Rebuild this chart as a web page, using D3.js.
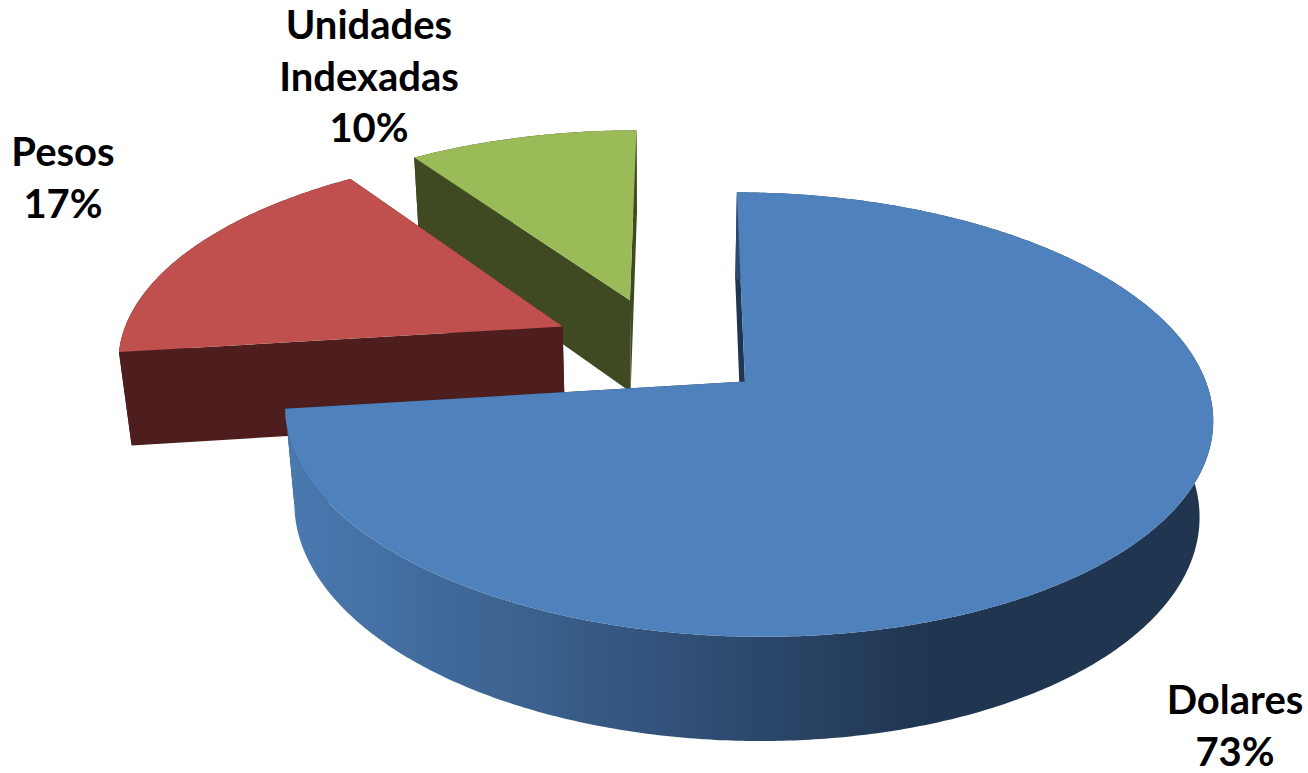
<!DOCTYPE html>
<html><head><meta charset="utf-8">
<script src="https://cdn.jsdelivr.net/npm/d3@7"></script>
<style>html,body{margin:0;background:#fff}svg{display:block}text{font-family:Lato,sans-serif;font-weight:700;font-size:40px;fill:#000;text-anchor:middle}</style>
</head><body><svg id="c" width="1308" height="773"></svg>
<script>
const categories=["Dolares","Pesos","Unidades Indexadas"];
const values=[72.9,17.4,9.7];
const topColors=["#4f81bd","#c0504d","#9bbb59"];
const wallColors=["#1f3550","#4e1e1e","#3f4a22"];
const labelLines=[["Dolares","73%"],["Pesos","17%"],["Unidades","Indexadas","10%"]];
const labelPos=[[1235,714],[63,166],[369,39]];

const cx=661,cy=347,Rx=447,Ry=207,D=96,p=0.145,q=0.005,r=0.024,explode=0.245;
const rotation=0.4*Math.PI/180;
function proj(X,Y,Z){
  const s=1/(1-p*Y-q*X+r*Z);
  return [cx+Rx*X*s,cy+(Ry*Y+D*Z)*s];
}
const svg=d3.select("#c");
const defs=svg.append("defs");
const g=defs.append("linearGradient").attr("id","blueWall").attr("gradientUnits","userSpaceOnUse")
 .attr("x1",290).attr("x2",930).attr("y1",0).attr("y2",0);
g.append("stop").attr("offset",0).attr("stop-color","#4a79b0");
g.append("stop").attr("offset",0.4).attr("stop-color","#3a5f8c");
g.append("stop").attr("offset",1).attr("stop-color","#1f3550");

const arcs=d3.pie().sort(null).startAngle(rotation).endAngle(rotation+2*Math.PI)(values);
const line=d3.line();
function rim(o,Z,a0,a1){
  const n=Math.max(2,Math.ceil(Math.abs(a1-a0)/0.01));
  return d3.range(n+1).map(i=>{
    const a=a0+(a1-a0)*i/n;
    return proj(o[0]+Math.sin(a),o[1]-Math.cos(a),Z);
  });
}
[2,1,0].forEach(i=>{
  const d=arcs[i];
  const mid=(d.startAngle+d.endAngle)/2;
  const o=[explode*Math.sin(mid),-explode*Math.cos(mid)];
  const G=svg.append("g").attr("class","slice");
  const A0=proj(o[0],o[1],0),A1=proj(o[0],o[1],1);
  const at=(a,Z)=>proj(o[0]+Math.sin(a),o[1]-Math.cos(a),Z);
  const wall=wallColors[i];
  G.append("path").attr("d",line([A0,at(d.endAngle,0),at(d.endAngle,1),A1])+"Z").attr("fill",wall);
  G.append("path").attr("d",line([A0,at(d.startAngle,0),at(d.startAngle,1),A1])+"Z").attr("fill",wall);
  const t=rim(o,0,d.startAngle,d.endAngle), b=rim(o,1,d.startAngle,d.endAngle);
  G.append("path").attr("d",line(t.concat(b.slice().reverse()))+"Z").attr("fill",i===0?"url(#blueWall)":wall);
  G.append("path").attr("d",line([A0].concat(t))+"Z").attr("fill",topColors[i]);
});
labelLines.forEach((ls,i)=>{
  const tx=svg.append("text").attr("x",labelPos[i][0]).attr("y",labelPos[i][1]);
  ls.forEach((l,j)=>tx.append("tspan").attr("x",labelPos[i][0]).attr("dy",j?51.5:0).text(l));
});
</script></body></html>
